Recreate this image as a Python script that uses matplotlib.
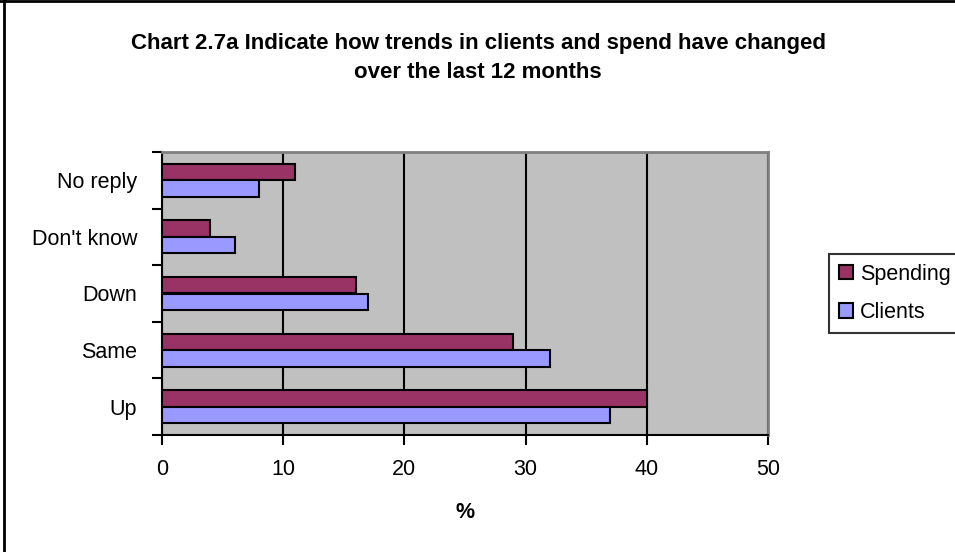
import matplotlib
matplotlib.use("Agg")
import matplotlib.pyplot as plt
import numpy as np
from matplotlib.lines import Line2D
from matplotlib.patches import Patch

plt.rcParams['font.family'] = ['Liberation Sans', 'DejaVu Sans']

categories = ["Up", "Same", "Down", "Don't know", "No reply"]
spending = [40, 29, 16, 4, 11]
clients = [37, 32, 17, 6, 8]
x_ticks = [0, 10, 20, 30, 40, 50]

title = "Chart 2.7a Indicate how trends in clients and spend have changed\nover the last 12 months"

FS = 15.5

fig = plt.figure(figsize=(9.55, 5.52), dpi=100)
ax = fig.add_axes([162 / 955, 1 - 435 / 552, (768 - 162) / 955, (435 - 152) / 552])
ax.set_facecolor("#C0C0C0")

y = np.arange(len(categories))
h = 0.29
ax.barh(y + h / 2, spending, height=h, color="#993366", edgecolor="black", linewidth=1.5, zorder=3)
ax.barh(y - h / 2, clients, height=h, color="#9999FF", edgecolor="black", linewidth=1.5, zorder=3)

ax.set_xlim(0, 50)
ax.set_ylim(-0.5, len(categories) - 0.5)
ax.set_xticks(x_ticks)
ax.set_xticklabels([str(v) for v in x_ticks], fontsize=FS)
ax.xaxis.grid(True, color="black", linewidth=1.5, zorder=1)
ax.set_axisbelow(True)

ax.set_yticks(y)
ax.set_yticklabels(categories, fontsize=FS)
ax.set_yticks(np.arange(-0.5, len(categories), 1.0), minor=True)
ax.tick_params(axis="y", which="major", length=0, pad=18)
ax.tick_params(axis="y", which="minor", length=7, width=1.5, direction="out")
ax.tick_params(axis="x", which="major", length=7, width=1.5, direction="out", pad=10)

for side in ("top", "right"):
    ax.spines[side].set_color("#808080")
    ax.spines[side].set_linewidth(2)
for side in ("left", "bottom"):
    ax.spines[side].set_color("black")
    ax.spines[side].set_linewidth(1.5)

ax.set_xlabel("%", fontsize=FS, fontweight="bold", labelpad=16)

fig.text(478 / 955, 1 - 58 / 552, title, ha="center", va="center",
         fontsize=16, fontweight="bold", linespacing=1.45)

handles = [Patch(facecolor="#993366", edgecolor="black", linewidth=1.5),
           Patch(facecolor="#9999FF", edgecolor="black", linewidth=1.5)]
leg = fig.legend(handles, ["Spending", "Clients"], loc="upper left",
                 bbox_to_anchor=(829 / 955, 1 - 254 / 552), fontsize=FS,
                 frameon=True, fancybox=False, handlelength=0.65, handleheight=0.65,
                 handletextpad=0.35, borderpad=0.45, labelspacing=0.8, borderaxespad=0)
leg.get_frame().set_edgecolor("black")
leg.get_frame().set_linewidth(1.5)

# outer chart frame (left and top edges)
fig.add_artist(Line2D([4 / 955, 4 / 955], [0, 1], transform=fig.transFigure, color="black", linewidth=2))
fig.add_artist(Line2D([0, 1], [1 - 1 / 552, 1 - 1 / 552], transform=fig.transFigure, color="black", linewidth=2))

fig.savefig("out.png", dpi=100)
